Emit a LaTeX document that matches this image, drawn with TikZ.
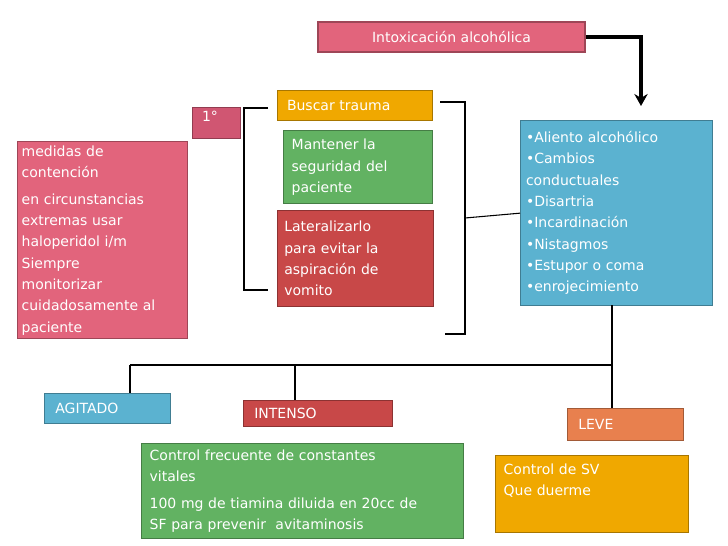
\documentclass[tikz,border=0pt]{standalone}
\usepackage{fontspec}
\usetikzlibrary{arrows.meta}
\setmainfont{DejaVu Sans}
\begin{document}
\begin{tikzpicture}[x=0.75pt,y=-0.75pt,
 bx/.style={draw=#1!70!black,fill=#1,line width=1pt,text=white,anchor=north west,align=left,inner sep=0pt,font=\fontsize{10.5}{16}\selectfont},
 ln/.style={line width=0.8pt}]
\definecolor{cpink}{HTML}{E2647C}
\definecolor{cpinkd}{HTML}{D05672}
\definecolor{corange}{HTML}{F0A800}
\definecolor{cgreen}{HTML}{62B262}
\definecolor{cred}{HTML}{C84848}
\definecolor{cblue}{HTML}{5BB2D0}
\definecolor{cor2}{HTML}{E8804E}
\useasboundingbox (0,0) rectangle (728,546);
\fill[white] (0,0) rectangle (728,546);
\node[bx=cpink,minimum width=267*0.75pt,minimum height=30*0.75pt,align=center,anchor=center] (intox) at (451.5,37) {Intoxicación alcohólica};
\node[bx=corange,minimum width=155*0.75pt,minimum height=30*0.75pt,text width=155*0.75pt] (busc) at (277,90) {\hspace*{7pt}Buscar trauma};
\node[bx=cpinkd,minimum width=48*0.75pt,minimum height=31*0.75pt,text width=48*0.75pt] (uno) at (192,107) {\hspace*{7pt}1°\\[-6pt]\mbox{}};
\node[bx=cgreen,minimum width=149*0.75pt,minimum height=73*0.75pt,text width=149*0.75pt] (mant) at (283,130) {\hspace*{6pt}\begin{minipage}[c]{100pt}Mantener la\\seguridad del\\paciente\end{minipage}};
\node[bx=cred,minimum width=156*0.75pt,minimum height=96*0.75pt,text width=156*0.75pt] (lat) at (277,210) {\hspace*{5pt}\begin{minipage}[c]{108pt}Lateralizarlo\\para evitar la\\aspiración de\\vomito\end{minipage}};
\node[bx=cpink,minimum width=170*0.75pt,minimum height=197*0.75pt,text width=170*0.75pt] (med) at (17,141) {\hspace*{3pt}\begin{minipage}[c]{122pt}medidas de\\contención\\[4pt]en circunstancias\\extremas usar\\haloperidol i/m\\Siempre\\monitorizar\\cuidadosamente al\\paciente\end{minipage}};
\node[bx=cblue,minimum width=192*0.75pt,minimum height=185*0.75pt,text width=192*0.75pt] (sint) at (520,120) {\hspace*{4pt}\begin{minipage}[c]{138pt}•Aliento alcohólico\\•Cambios\\conductuales\\•Disartria\\•Incardinación\\•Nistagmos\\•Estupor o coma\\•enrojecimiento\end{minipage}};
\node[bx=cblue,minimum width=126*0.75pt,minimum height=30*0.75pt,text width=126*0.75pt] (agit) at (44,393) {\hspace*{8pt}AGITADO};
\node[bx=cred,minimum width=149*0.75pt,minimum height=26*0.75pt,text width=149*0.75pt] (inten) at (243,400) {\hspace*{8pt}INTENSO};
\node[bx=cor2,minimum width=116*0.75pt,minimum height=32*0.75pt,text width=116*0.75pt] (leve) at (567,408) {\hspace*{8pt}LEVE};
\node[bx=cgreen,minimum width=322*0.75pt,minimum height=95*0.75pt,text width=322*0.75pt] (ctrl) at (141,443) {\hspace*{6pt}\begin{minipage}[c]{230pt}Control frecuente de constantes\\vitales\\[4pt]100 mg de tiamina diluida en 20cc de\\SF para prevenir\ \ avitaminosis\end{minipage}};
\node[bx=corange,minimum width=193*0.75pt,minimum height=77*0.75pt,text width=193*0.75pt] (sv) at (495,455) {\hspace*{6pt}\begin{minipage}[c]{135pt}Control de SV\\Que duerme\\[6pt]\mbox{}\end{minipage}};
% arrow
\draw[line width=3pt,-{Stealth[length=9pt,width=10pt]}] (intox.east) -| (641,106);
% brackets
\draw[ln] (268,108) -- (244,108) -- (244,290) -- (268,290);
\draw[ln] (440,102) -- (465,102) -- (465,334) -- (445,334);
\coordinate (bm) at (465,218);
\draw[ln] (bm) -- (sint.west);
% bottom tree
\coordinate (hb) at (612,365);
\draw[ln] (612,305) -- (hb);
\draw[ln] (130,365) -- (hb);
\draw[ln] (130,365) -- (130,393);
\draw[ln] (295,365) -- (295,400);
\draw[ln] (hb) -- (612,408);
\end{tikzpicture}
\end{document}
